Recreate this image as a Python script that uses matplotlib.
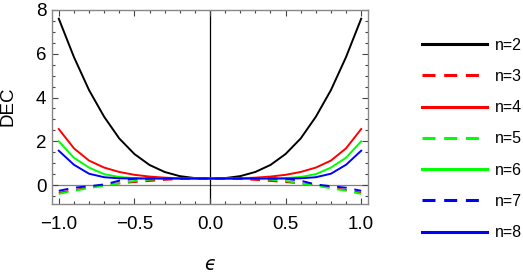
import matplotlib
matplotlib.use("Agg")
import matplotlib.pyplot as plt
from matplotlib.ticker import MultipleLocator

plt.rcParams['font.family'] = ['Liberation Sans', 'DejaVu Sans']

eps = [-1.0, -0.9, -0.8, -0.7, -0.6, -0.5, -0.4, -0.3, -0.2, -0.1, 0.0,
       0.1, 0.2, 0.3, 0.4, 0.5, 0.6, 0.7, 0.8, 0.9, 1.0]

n2 = [7.60, 5.85, 4.34, 3.12, 2.13, 1.42, 0.92, 0.60, 0.41, 0.32, 0.30,
      0.32, 0.41, 0.60, 0.92, 1.42, 2.13, 3.12, 4.34, 5.85, 7.60]
n3 = [-0.35, -0.23, -0.11, 0.00, 0.08, 0.14, 0.19, 0.24, 0.28, 0.30, 0.30,
      0.30, 0.28, 0.24, 0.19, 0.14, 0.08, 0.00, -0.11, -0.23, -0.35]
n4 = [2.56, 1.68, 1.12, 0.80, 0.60, 0.47, 0.39, 0.34, 0.31, 0.30, 0.30,
      0.30, 0.31, 0.34, 0.39, 0.47, 0.60, 0.80, 1.12, 1.68, 2.56]
n5 = [-0.40, -0.26, -0.14, -0.03, 0.08, 0.19, 0.25, 0.28, 0.30, 0.30, 0.30,
      0.30, 0.30, 0.28, 0.25, 0.19, 0.08, -0.03, -0.14, -0.26, -0.40]
n6 = [2.00, 1.25, 0.80, 0.50, 0.37, 0.32, 0.31, 0.30, 0.30, 0.30, 0.30,
      0.30, 0.30, 0.30, 0.31, 0.32, 0.37, 0.50, 0.80, 1.25, 2.00]
n7 = [-0.26, -0.12, -0.05, 0.03, 0.20, 0.29, 0.30, 0.30, 0.30, 0.30, 0.30,
      0.30, 0.30, 0.30, 0.30, 0.29, 0.20, 0.03, -0.05, -0.12, -0.26]
n8 = [1.57, 0.93, 0.52, 0.36, 0.31, 0.30, 0.30, 0.30, 0.30, 0.30, 0.30,
      0.30, 0.30, 0.30, 0.30, 0.30, 0.31, 0.36, 0.52, 0.93, 1.57]

labels = ["n=2", "n=3", "n=4", "n=5", "n=6", "n=7", "n=8"]
series = [n2, n3, n4, n5, n6, n7, n8]
colors = ["#000000", "#ff0000", "#ff0000", "#00ff00", "#00ff00", "#0000ff", "#0000ff"]
dashed = [False, True, False, True, False, True, False]

fig = plt.figure(figsize=(5.23, 2.73), dpi=100)
ax = fig.add_axes([0.0994, 0.2538, 0.6042, 0.7114])

ax.axhline(0, color="#808080", lw=0.9, zorder=1)
ax.axvline(0, color="#000000", lw=0.9, zorder=1)

for ys, c, d, lab in zip(series, colors, dashed, labels):
    ls = (0, (5, 4)) if d else "-"
    ax.plot(eps, ys, color=c, lw=1.4, linestyle=ls, label=lab, zorder=2)

ax.set_xlim(-1.045, 1.045)
ax.set_ylim(-0.85, 8.02)
ax.xaxis.set_minor_locator(MultipleLocator(0.1))
ax.yaxis.set_minor_locator(MultipleLocator(0.5))
ax.set_xticks([-1.0, -0.5, 0.0, 0.5, 1.0])
ax.set_xticklabels(["\u22121.0", "\u22120.5", "0.0", "0.5", "1.0"])
ax.set_yticks([0, 2, 4, 6, 8])
ax.set_yticklabels(["0", "2", "4", "6", "8"])
ax.tick_params(which="both", direction="in", top=True, right=True,
               color="#444444", width=0.8, labelsize=13.5, labelcolor="#000000")
ax.tick_params(which="major", length=4.5)
ax.tick_params(axis="x", which="major", pad=9)
ax.tick_params(axis="y", which="major", pad=4)
ax.tick_params(which="minor", length=2.5)
for s in ax.spines.values():
    s.set_color("#888888")
    s.set_linewidth(1.0)

ax.set_ylabel("DEC", fontsize=13.5)
ax.yaxis.set_label_coords(-0.112, 0.5)
ax.set_xlabel("\u03f5", fontsize=13.5, style="italic", family=["DejaVu Sans"])
ax.xaxis.set_label_coords(0.5, -0.262)
ax.xaxis.label.set_va("top")

leg_handles = []
for c, d in zip(colors, dashed):
    ls = (0, (4.25, 2.85)) if d else "-"
    h, = ax.plot([], [], color=c, lw=2.2, linestyle=ls)
    leg_handles.append(h)
fig.legend(leg_handles, labels, loc="upper left",
           bbox_to_anchor=(0.779, 0.915), frameon=False, fontsize=11.5,
           handlelength=4.07, handletextpad=0.5, labelspacing=1.02)

fig.savefig("out.png", dpi=100)
